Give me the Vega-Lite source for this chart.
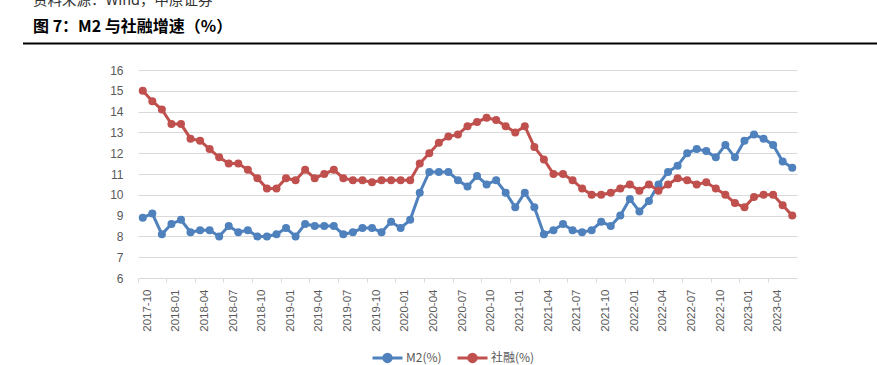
{
  "$schema": "https://vega.github.io/schema/vega-lite/v6.json",
  "padding": {"left": 22, "top": -7, "right": 0, "bottom": 0},
  "spacing": 14,
  "background": "white",
  "config": {"view": {"stroke": null}, "font": "Liberation Sans"},
  "vconcat": [
    {
      "width": 740,
      "height": 1,
      "title": {
        "text": "资料来源：Wind，中原证券",
        "subtitle": "图 7：M2 与社融增速（%）",
        "anchor": "start",
        "frame": "group",
        "dx": -105,
        "offset": 7,
        "font": "Noto Sans CJK SC",
        "fontSize": 14.5,
        "fontWeight": "normal",
        "color": "#333333",
        "subtitleFont": "Noto Sans CJK SC",
        "subtitleFontSize": 16,
        "subtitleFontWeight": "bold",
        "subtitleColor": "#000000",
        "subtitlePadding": 10
      },
      "data": {"values": [{"a": -115, "b": 740}]},
      "mark": {"type": "rule", "color": "#000000", "strokeWidth": 2},
      "encoding": {
        "x": {"field": "a", "type": "quantitative", "scale": {"domain": [0, 740], "nice": false, "zero": false}, "axis": null},
        "x2": {"field": "b"}
      }
    },
    {
      "width": 659,
      "height": 208,
      "data": {"values": [
        {"d":"2017-10","m2":8.9,"sf":15.0},{"d":"2017-11","m2":9.1,"sf":14.5},{"d":"2017-12","m2":8.1,"sf":14.1},
        {"d":"2018-01","m2":8.6,"sf":13.4},{"d":"2018-02","m2":8.8,"sf":13.4},{"d":"2018-03","m2":8.2,"sf":12.7},
        {"d":"2018-04","m2":8.3,"sf":12.6},{"d":"2018-05","m2":8.3,"sf":12.2},{"d":"2018-06","m2":8.0,"sf":11.8},
        {"d":"2018-07","m2":8.5,"sf":11.5},{"d":"2018-08","m2":8.2,"sf":11.5},{"d":"2018-09","m2":8.3,"sf":11.2},
        {"d":"2018-10","m2":8.0,"sf":10.8},{"d":"2018-11","m2":8.0,"sf":10.3},{"d":"2018-12","m2":8.1,"sf":10.3},
        {"d":"2019-01","m2":8.4,"sf":10.8},{"d":"2019-02","m2":8.0,"sf":10.7},{"d":"2019-03","m2":8.6,"sf":11.2},
        {"d":"2019-04","m2":8.5,"sf":10.8},{"d":"2019-05","m2":8.5,"sf":11.0},{"d":"2019-06","m2":8.5,"sf":11.2},
        {"d":"2019-07","m2":8.1,"sf":10.8},{"d":"2019-08","m2":8.2,"sf":10.7},{"d":"2019-09","m2":8.4,"sf":10.7},
        {"d":"2019-10","m2":8.4,"sf":10.6},{"d":"2019-11","m2":8.2,"sf":10.7},{"d":"2019-12","m2":8.7,"sf":10.7},
        {"d":"2020-01","m2":8.4,"sf":10.7},{"d":"2020-02","m2":8.8,"sf":10.7},{"d":"2020-03","m2":10.1,"sf":11.5},
        {"d":"2020-04","m2":11.1,"sf":12.0},{"d":"2020-05","m2":11.1,"sf":12.5},{"d":"2020-06","m2":11.1,"sf":12.8},
        {"d":"2020-07","m2":10.7,"sf":12.9},{"d":"2020-08","m2":10.4,"sf":13.3},{"d":"2020-09","m2":10.9,"sf":13.5},
        {"d":"2020-10","m2":10.5,"sf":13.7},{"d":"2020-11","m2":10.7,"sf":13.6},{"d":"2020-12","m2":10.1,"sf":13.3},
        {"d":"2021-01","m2":9.4,"sf":13.0},{"d":"2021-02","m2":10.1,"sf":13.3},{"d":"2021-03","m2":9.4,"sf":12.3},
        {"d":"2021-04","m2":8.1,"sf":11.7},{"d":"2021-05","m2":8.3,"sf":11.0},{"d":"2021-06","m2":8.6,"sf":11.0},
        {"d":"2021-07","m2":8.3,"sf":10.7},{"d":"2021-08","m2":8.2,"sf":10.3},{"d":"2021-09","m2":8.3,"sf":10.0},
        {"d":"2021-10","m2":8.7,"sf":10.0},{"d":"2021-11","m2":8.5,"sf":10.1},{"d":"2021-12","m2":9.0,"sf":10.3},
        {"d":"2022-01","m2":9.8,"sf":10.5},{"d":"2022-02","m2":9.2,"sf":10.2},{"d":"2022-03","m2":9.7,"sf":10.5},
        {"d":"2022-04","m2":10.5,"sf":10.2},{"d":"2022-05","m2":11.1,"sf":10.5},{"d":"2022-06","m2":11.4,"sf":10.8},
        {"d":"2022-07","m2":12.0,"sf":10.7},{"d":"2022-08","m2":12.2,"sf":10.5},{"d":"2022-09","m2":12.1,"sf":10.6},
        {"d":"2022-10","m2":11.8,"sf":10.3},{"d":"2022-11","m2":12.4,"sf":10.0},{"d":"2022-12","m2":11.8,"sf":9.6},
        {"d":"2023-01","m2":12.6,"sf":9.4},{"d":"2023-02","m2":12.9,"sf":9.9},{"d":"2023-03","m2":12.7,"sf":10.0},
        {"d":"2023-04","m2":12.4,"sf":10.0},{"d":"2023-05","m2":11.6,"sf":9.5},{"d":"2023-06","m2":11.3,"sf":9.0}
      ]},
      "transform": [{"fold": ["m2", "sf"], "as": ["s", "v"]}],
      "mark": {"type": "line", "strokeWidth": 3, "point": {"filled": true, "size": 64, "opacity": 1}},
      "encoding": {
        "x": {
          "field": "d", "type": "ordinal",
          "scale": {"type": "band", "paddingInner": 0, "paddingOuter": 0},
          "axis": {
            "title": null,
            "values": ["2017-10","2018-01","2018-04","2018-07","2018-10","2019-01","2019-04","2019-07","2019-10","2020-01","2020-04","2020-07","2020-10","2021-01","2021-04","2021-07","2021-10","2022-01","2022-04","2022-07","2022-10","2023-01","2023-04"],
            "labelAngle": -90,
            "bandPosition": 0,
            "labelOffset": 4.77,
            "tickSize": 4,
            "labelPadding": 7,
            "tickColor": "#d9d9d9",
            "domainColor": "#d9d9d9",
            "labelColor": "#595959",
            "labelFontSize": 11.5,
            "grid": false
          }
        },
        "y": {
          "field": "v", "type": "quantitative",
          "scale": {"domain": [6, 16], "nice": false, "zero": false},
          "axis": {
            "title": " ",
            "titleAngle": 0,
            "titleAlign": "left",
            "titleX": -115,
            "titleY": 0,
            "values": [6,7,8,9,10,11,12,13,14,15,16],
            "domain": false,
            "ticks": false,
            "labelPadding": 15,
            "labelColor": "#595959",
            "labelFontSize": 12,
            "gridColor": "#d9d9d9",
            "gridWidth": 1
          }
        },
        "color": {
          "field": "s", "type": "nominal",
          "scale": {"domain": ["m2", "sf"], "range": ["#4F81BD", "#C0504D"]},
          "legend": {
            "title": null,
            "orient": "none",
            "legendX": 233,
            "legendY": 298,
            "direction": "horizontal",
            "labelExpr": "datum.value == 'm2' ? 'M2(%)' : '社融(%)'",
            "labelFont": "Noto Sans CJK SC",
            "labelFontSize": 12,
            "labelColor": "#595959",
            "symbolType": "M-1,0L1,0M-0.25,0A0.25,0.25,0,1,1,0.25,0A0.25,0.25,0,1,1,-0.25,0Z",
            "symbolSize": 900,
            "symbolStrokeWidth": 3,
            "columnPadding": 9,
            "labelOffset": 2,
            "encode": {"symbols": {"update": {"fill": {"scale": "color", "field": "value"}, "stroke": {"scale": "color", "field": "value"}, "opacity": {"value": 1}}}}
          }
        }
      }
    }
  ]
}
